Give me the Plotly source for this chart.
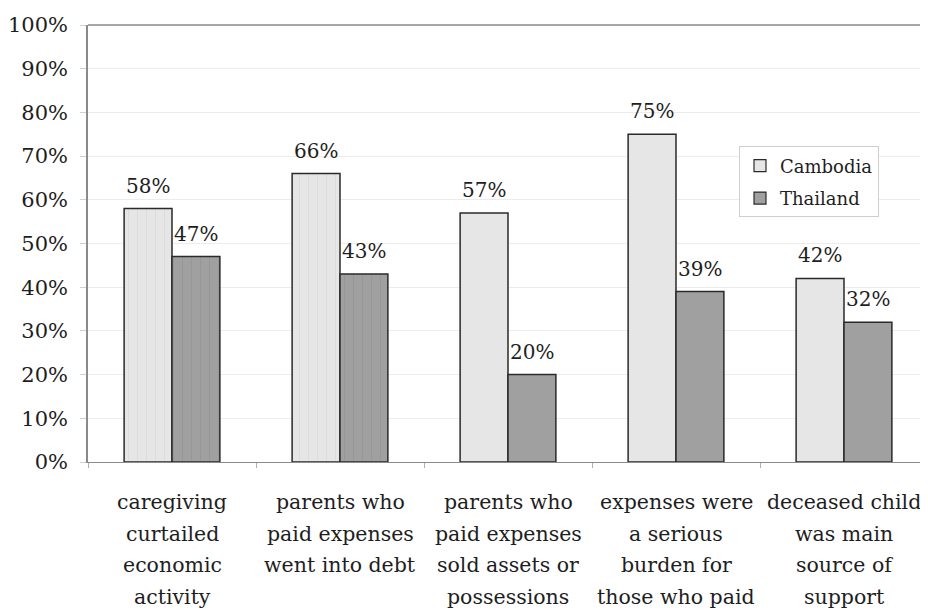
import plotly.graph_objects as go

categories = [
    "caregiving curtailed economic activity",
    "parents who paid expenses went into debt",
    "parents who paid expenses sold assets or possessions",
    "expenses were a serious burden for those who paid",
    "deceased child was main source of support",
]
label_lines = [
    ["caregiving", "curtailed", "economic", "activity"],
    ["parents who", "paid expenses", "went into debt"],
    ["parents who", "paid expenses", "sold assets or", "possessions"],
    ["expenses were", "a serious", "burden for", "those who paid"],
    ["deceased child", "was main", "source of", "support"],
]
cambodia = [0.58, 0.66, 0.57, 0.75, 0.42]
thailand = [0.47, 0.43, 0.20, 0.39, 0.32]
series_names = ["Cambodia", "Thailand"]

FONT = "DejaVu Serif"
TXT = "#1e1e1e"
cam_col = "#e6e6e6"
tha_col = "#a0a0a0"
edge = "#2a2a2a"
patterns = ["|", "|", "", "", ""]

fig = go.Figure()
fig.add_trace(go.Bar(
    x=categories, y=cambodia, name=series_names[0], showlegend=False,
    offsetgroup="c",
    marker=dict(color=cam_col, line=dict(color=edge, width=1.5),
                pattern=dict(shape=patterns, fgcolor="#d2d2d2", size=9, solidity=0.12)),
    hoverinfo="skip",
))
fig.add_trace(go.Bar(
    x=categories, y=thailand, name=series_names[1], showlegend=False,
    offsetgroup="t",
    marker=dict(color=tha_col, line=dict(color=edge, width=1.5),
                pattern=dict(shape=patterns, fgcolor="#8e8e8e", size=9, solidity=0.12)),
    hoverinfo="skip",
))
fig.add_trace(go.Bar(x=[categories[0]], y=[None], name=series_names[0], offsetgroup="c",
                     legendgroup="g1",
                     marker=dict(color=cam_col, line=dict(color=edge, width=1.2))))
fig.add_trace(go.Bar(x=[categories[0]], y=[None], name=series_names[1], offsetgroup="t",
                     legendgroup="g2",
                     marker=dict(color=tha_col, line=dict(color=edge, width=1.2))))

annotations = []
for i, c in enumerate(categories):
    for v, off in ((cambodia[i], -0.5), (thailand[i], 0.5)):
        annotations.append(dict(
            x=c, y=v, xref="x", yref="y", text=f"{round(v*100)}%",
            showarrow=False, yanchor="bottom", yshift=9, xshift=off * 48,
            font=dict(family=FONT, size=20, color=TXT),
        ))
for c, lines in zip(categories, label_lines):
    for j, ln in enumerate(lines):
        annotations.append(dict(
            x=c, y=0, xref="x", yref="paper", text=ln, showarrow=False,
            yanchor="middle", yshift=-40 - 31.5 * j,
            font=dict(family=FONT, size=20.5, color=TXT),
        ))

fig.update_layout(
    width=920, height=605,
    margin=dict(l=80, r=0, t=17, b=151),
    paper_bgcolor="white", plot_bgcolor="white",
    barmode="group", bargap=0.43, bargroupgap=0,
    font=dict(family=FONT, size=19, color=TXT),
    annotations=annotations,
    legend=dict(x=0.775, y=0.722, xanchor="left", yanchor="top",
                bordercolor="#cfcfcf", borderwidth=1, bgcolor="white",
                font=dict(family=FONT, size=18, color=TXT),
                tracegroupgap=6, itemwidth=30),
    shapes=[dict(type="line", xref="paper", yref="paper", x0=0, x1=1, y0=1, y1=1,
                 line=dict(color="#8a8a8a", width=1.5))],
)
fig.update_xaxes(
    showticklabels=False, showline=True, linecolor="#8a8a8a", linewidth=1.2,
    ticks="outside", tickson="boundaries", ticklen=5, tickcolor="#b0b0b0",
    showgrid=False, automargin=False,
)
fig.update_yaxes(
    range=[0, 1], dtick=0.1, tickformat=".0%",
    showline=True, linecolor="#8a8a8a", linewidth=1.5,
    ticks="outside", ticklen=6, tickcolor="#d0d0d0",
    showgrid=True, gridcolor="#ececec", gridwidth=1,
    ticklabelstandoff=8, automargin=False,
    tickfont=dict(family=FONT, size=21, color=TXT),
    zeroline=False,
)

fig.write_html("out.html")
